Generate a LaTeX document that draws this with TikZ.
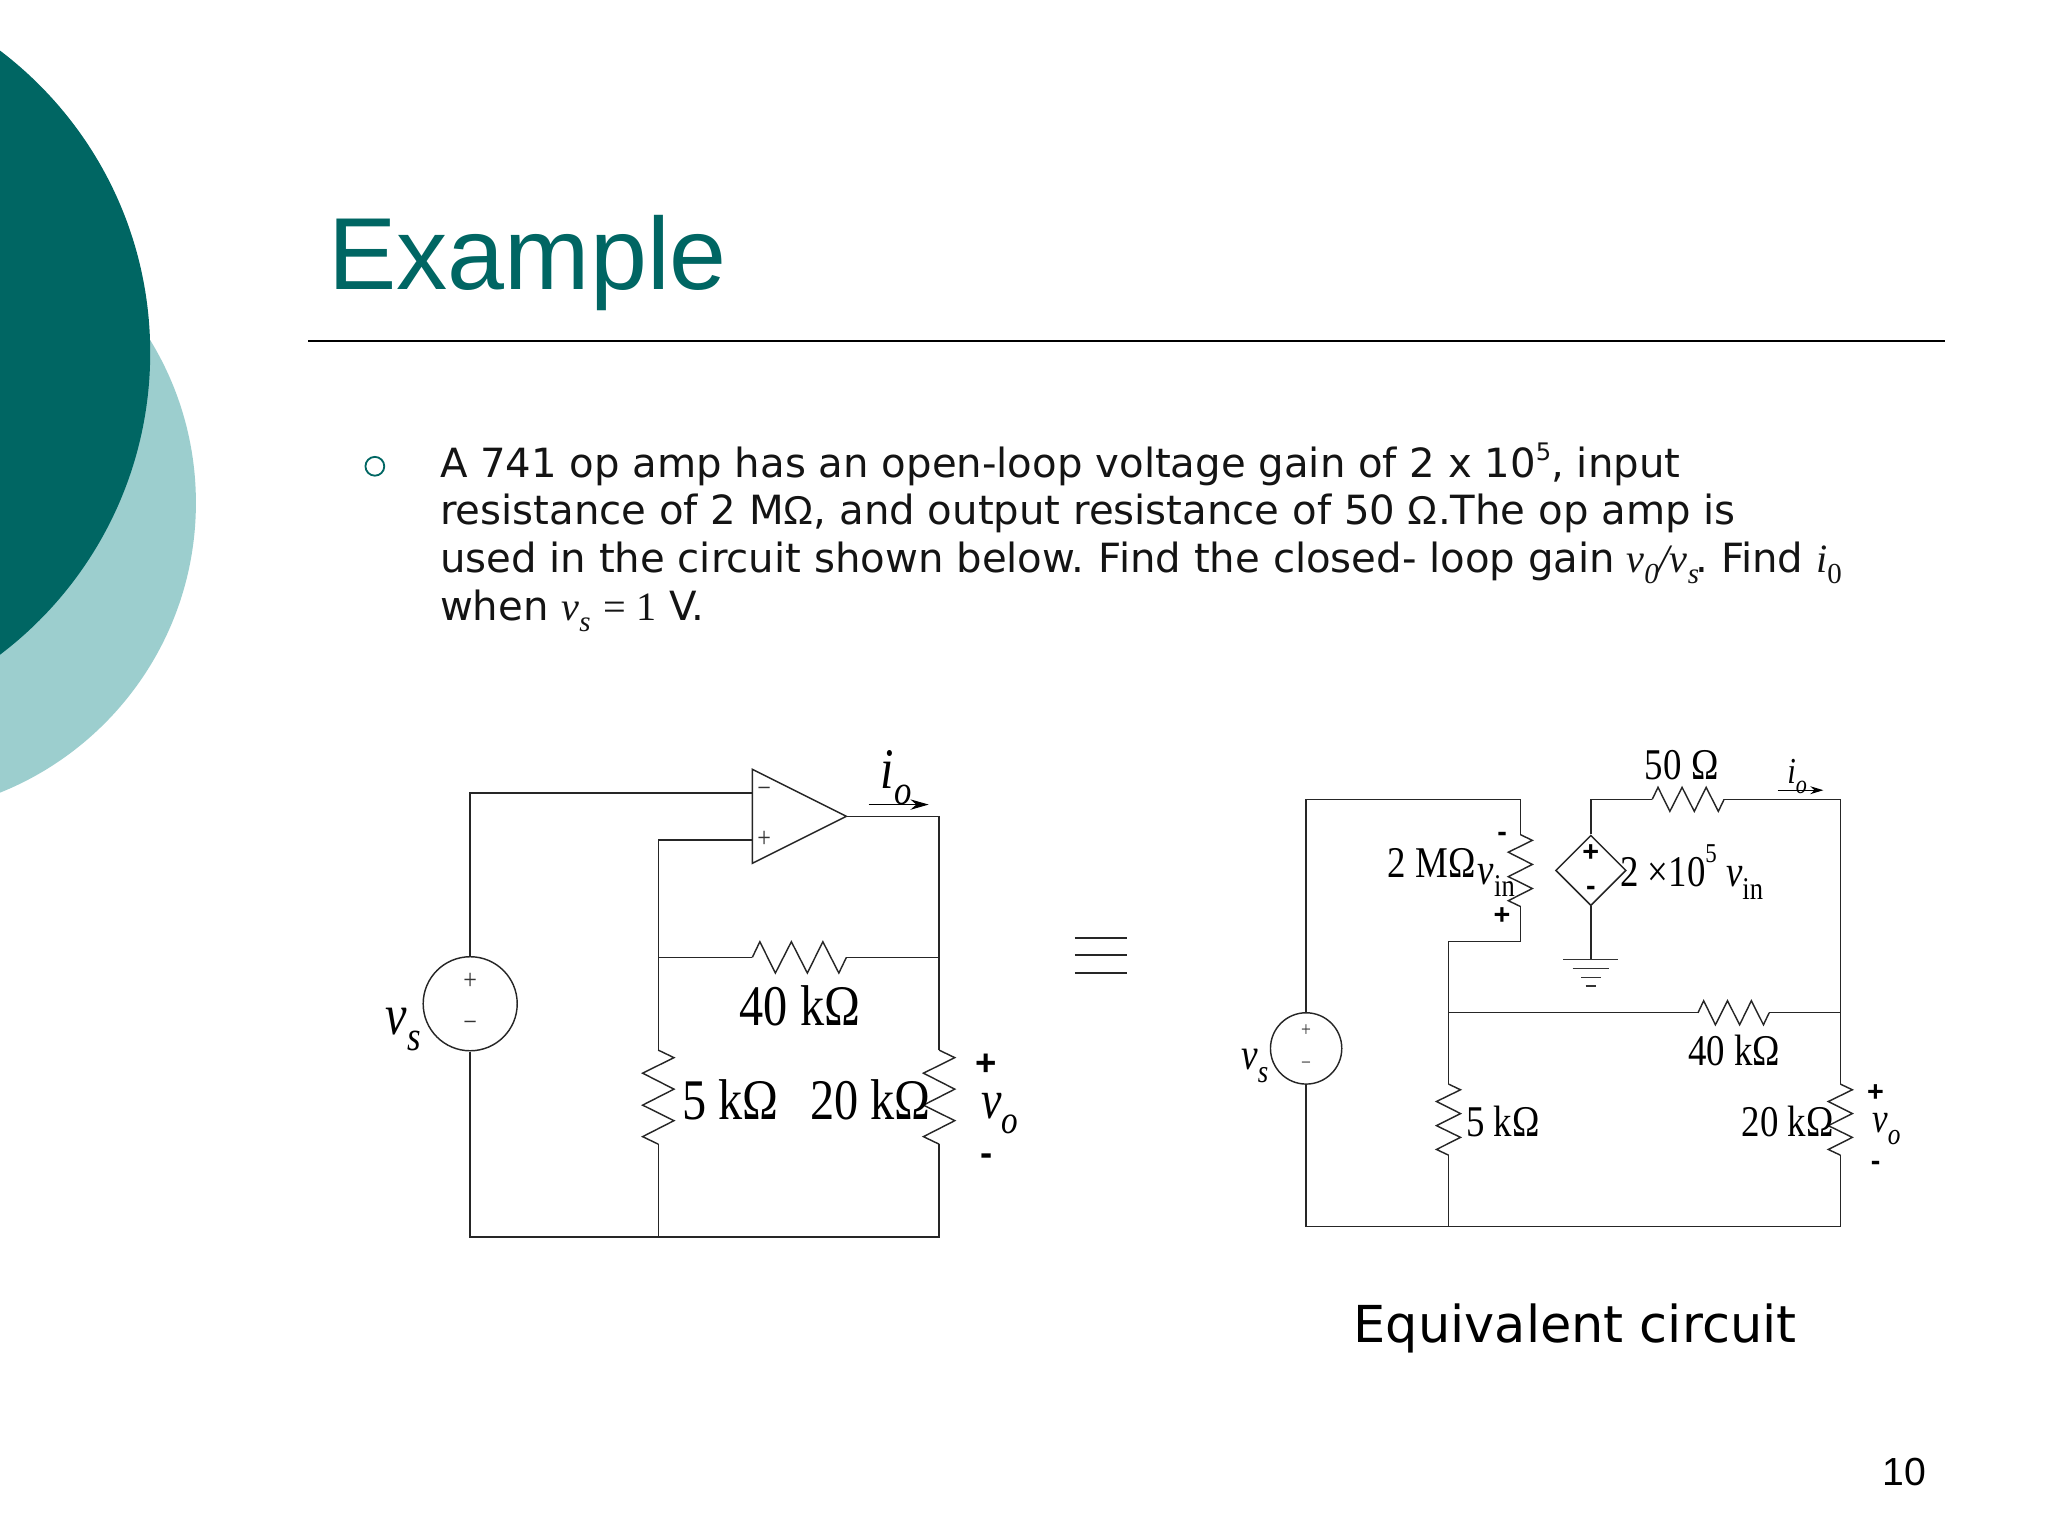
\documentclass[tikz,border=0pt]{standalone}
\usepackage{fontspec}
\setmainfont{DejaVu Sans}
\newfontfamily\tmf[FakeStretch=.84]{Liberation Serif}
\newfontfamily\tmb{Liberation Serif}
\newfontfamily\arf{Liberation Sans}
\usetikzlibrary{calc,arrows.meta,shapes.geometric}
\definecolor{tealdark}{HTML}{006663}
\definecolor{teallight}{HTML}{9CCECE}
\newcommand\lsub[1]{\raisebox{-.28em}{\scalebox{.72}{#1}}}
\newcommand\lsup[1]{\raisebox{.55em}{\scalebox{.62}{#1}}}
\newcommand\bsup[1]{\raisebox{.42em}{\scalebox{.6}{#1}}}
\newcommand\fs[1]{\fontsize{#1}{#1}\selectfont}
% resistor from coordinate #1 to #2 with half-swing #3
\newcommand\zigR[3]{\draw[wire,line join=miter] (#1)
 -- ($(#1)!.08!(#2)!#3!90:(#2)$) -- ($(#1)!.245!(#2)!#3!-90:(#2)$)
 -- ($(#1)!.415!(#2)!#3!90:(#2)$) -- ($(#1)!.585!(#2)!#3!-90:(#2)$)
 -- ($(#1)!.75!(#2)!#3!90:(#2)$) -- ($(#1)!.92!(#2)!#3!-90:(#2)$) -- (#2);}
\tikzset{
 wire/.style={draw=black!85,line width=.55pt},
 lab/.style={anchor=base west,inner sep=0pt,text=black},
 cfontA/.style={lab,font=\tmf\fs{22}},
 cfontB/.style={lab,font=\tmf\fs{16.8}},
 signA/.style={inner sep=0pt,font=\arf\bfseries\fs{14}},
 signB/.style={inner sep=0pt,font=\arf\bfseries\fs{11}},
 thinsign/.style={inner sep=0pt,font=\tmf\fs{#1},text=black!80},
}
\begin{document}
\begin{tikzpicture}[x=.5pt,y=-.5pt]
\useasboundingbox (0,0) rectangle (1568,1176);
\begin{scope}
\clip (0,0) rectangle (1568,1176);
\fill[white] (0,0) rectangle (1568,1176);
\fill[teallight] (-89,385) circle [radius=239*.5pt];
\fill[tealdark] (-175,270) circle [radius=290*.5pt];
\end{scope}
% header
\node[lab,text=tealdark,font=\arf\fs{39.2}] (title) at (251,222) {Example};
\coordinate (ruleL) at (236,261); \coordinate (ruleR) at (1489,261);
\draw[black,line width=1pt] (ruleL) -- (ruleR);
\node[circle,draw=tealdark,line width=.7pt,minimum size=7.2pt,inner sep=0pt] (bullet) at (287,357) {};
\node[anchor=north west,inner sep=0pt,align=left,font=\fontsize{15.4}{18.25}\selectfont,text=black!92] (body) at (336.5,338.5)
{A 741 op amp has an open-loop voltage gain of 2 x 10\bsup{5}, input\\
resistance of 2 M{\arf Ω}, and output resistance of 50 {\arf Ω}.The op amp is\\
used in the circuit shown below.\hspace{-1pt} Find the closed- loop gain\hspace{-.5pt} {\tmb\itshape v\lsub{0}/v\lsub{s}}\hspace{-1.5pt}. \hspace{-1.5pt}Find {\tmb\itshape i\lsub{\upshape 0}}\\
when {\tmb\itshape v\lsub{s}} {\tmb = 1} V.};
\node[lab,font=\fs{19.5}] (eqcap) at (1036,1028) {Equivalent circuit};
\node[lab,font=\arf\fs{15}] (pagenum) at (1441,1137) {10};
% ---- left circuit
\node[wire,circle,minimum size=36pt,inner sep=0pt] (vsA) at (360,768.5) {};
\coordinate (tlA) at (360,607); \coordinate (inmA) at (576,607);
\coordinate (blA) at (360,947); \coordinate (bmA) at (504,947); \coordinate (brA) at (719,947);
\coordinate (oaT) at (576,589); \coordinate (oaB) at (576,661); \coordinate (oaO) at (648,625);
\coordinate (inpA) at (576,643); \coordinate (ipA) at (504,643);
\coordinate (orA) at (719,625);
\coordinate (fbL) at (504,733); \coordinate (fbR) at (719,733);
\coordinate (fbr1) at (576,733); \coordinate (fbr2) at (648,733);
\coordinate (r5a) at (504,804); \coordinate (r5b) at (504,876);
\coordinate (r20a) at (719,804); \coordinate (r20b) at (719,876);
\draw[wire] (vsA.north) -- (tlA) -- (inmA);
\draw[wire] (vsA.south) -- (blA) -- (brA) -- (r20b);
\draw[wire] (oaT) -- (oaB) -- (oaO) -- cycle;
\draw[wire] (inpA) -- (ipA) -- (r5a);
\draw[wire] (r5b) -- (bmA);
\draw[wire] (oaO) -- (orA) -- (r20a);
\draw[wire] (fbL) -- (fbr1); \draw[wire] (fbr2) -- (fbR);
\zigR{fbr1}{fbr2}{6pt}
\zigR{r5a}{r5b}{6pt}
\zigR{r20a}{r20b}{6pt}
\node[thinsign=11] (opm) at (585,607) {−};
\node[thinsign=11] (opp) at (585,643) {+};
\node[thinsign=11] (sap) at (360,751) {+};
\node[thinsign=11] (sam) at (360,786) {−};
\node[cfontA,font=\tmf\itshape\fs{22}] (vsLA) at (295,792) {v\lsub{s}};
\node[cfontA,font=\tmf\itshape\fs{22}] (ioLA) at (674,604) {i\lsub{o}};
\coordinate (ioa) at (665,616); \coordinate (iob) at (711,616);
\draw[black,line width=.5pt,-{Stealth[length=7pt,width=4pt]}] (ioa) -- (iob);
\node[cfontA] (l40A) at (566,785) {40 kΩ};
\node[cfontA] (l5A) at (522,857) {5 kΩ};
\node[cfontA] (l20A) at (620,857) {20 kΩ};
\node[signA] (voPA) at (755,815) {+};
\node[cfontA,font=\tmf\itshape\fs{21}] (voLA) at (751,856) {v\lsub{o}};
\node[signA] (voMA) at (755,888) {-};
% equivalence sign
\foreach \n/\yy in {a/718,b/731,c/745}{
 \coordinate (eq\n L) at (823,\yy); \coordinate (eq\n R) at (863,\yy);
 \draw[black!85,line width=.6pt] (eq\n L) -- (eq\n R);}
% ---- right circuit
\node[wire,circle,minimum size=27.3pt,inner sep=0pt] (vsB) at (1000,802.7) {};
\coordinate (tlB) at (1000,612); \coordinate (tmB) at (1164,612);
\coordinate (rMa) at (1164,639); \coordinate (rMb) at (1164,694);
\coordinate (jg1) at (1164,721); \coordinate (jg2) at (1109,721);
\coordinate (nodeB) at (1109,775.4);
\coordinate (r5aB) at (1109,830); \coordinate (r5bB) at (1109,884.4);
\coordinate (blB) at (1000,939); \coordinate (bmB) at (1109,939); \coordinate (brB) at (1409,939);
\node[wire,diamond,aspect=1,minimum size=27pt,inner sep=0pt] (dsrc) at (1218,666.4) {};
\coordinate (tdB) at (1218,612); \coordinate (r50a) at (1265,612); \coordinate (r50b) at (1320,612);
\coordinate (trB) at (1409,612); \coordinate (midR) at (1409,775.4);
\coordinate (r40a) at (1300,775.4); \coordinate (r40b) at (1354.5,775.4);
\coordinate (r20aB) at (1409,830); \coordinate (r20bB) at (1409,884.4);
\coordinate (gnd) at (1218,734.5);
\draw[wire] (vsB.north) -- (tlB) -- (tmB) -- (rMa);
\draw[wire] (rMb) -- (jg1) -- (jg2) -- (r5aB);
\draw[wire] (vsB.south) -- (blB) -- (brB) -- (r20bB);
\draw[wire] (r5bB) -- (bmB);
\draw[wire] (dsrc.north) -- (tdB) -- (r50a);
\draw[wire] (r50b) -- (trB) -- (r20aB);
\draw[wire] (nodeB) -- (r40a); \draw[wire] (r40b) -- (midR);
\draw[wire] (dsrc.south) -- (gnd);
\zigR{rMa}{rMb}{4.6pt}
\zigR{r50a}{r50b}{4.6pt}
\zigR{r40a}{r40b}{4.6pt}
\zigR{r5aB}{r5bB}{4.6pt}
\zigR{r20aB}{r20bB}{4.6pt}
\foreach \n/\yy/\hw in {a/734.5/21,b/741.4/14,c/748.3/7.5,d/755/4}{
 \coordinate (g\n L) at (1218-\hw,\yy); \coordinate (g\n R) at (1218+\hw,\yy);
 \draw[black!80,line width=.5pt] (g\n L) -- (g\n R);}
\node[thinsign=8] (sbp) at (1000,789) {+};
\node[thinsign=8] (sbm) at (1000,816) {−};
\node[cfontB,font=\tmf\itshape\fs{17}] (vsLB) at (950,819) {v\lsub{s}};
\node[cfontB] (l50) at (1259,597) {50 Ω};
\node[cfontB,font=\tmf\itshape\fs{14}] (ioLB) at (1368,600) {i\lsub{o}};
\coordinate (iobA) at (1361,605); \coordinate (iobB) at (1396,605);
\draw[black,line width=.45pt,-{Stealth[length=5pt,width=3pt]}] (iobA) -- (iobB);
\node[cfontB] (l2M) at (1062,672) {2 MΩ};
\node[cfontB,font=\tmf\itshape\fs{16.8}] (vinL) at (1131,677) {v\lsub{\upshape in}};
\node[signB] (pm) at (1150,641) {-};
\node[signB] (pp) at (1150,701) {+};
\node[signB] (dp) at (1218,653) {+};
\node[signB] (dm) at (1218,682) {-};
\node[cfontB] (gainL) at (1240,679) {2 ×10\lsup{5} {\itshape v\lsub{\upshape in}}};
\node[cfontB] (l40B) at (1292,816) {40 kΩ};
\node[cfontB] (l5B) at (1122,870) {5 kΩ};
\node[cfontB] (l20B) at (1333,870) {20 kΩ};
\node[signB] (voPB) at (1436,837) {+};
\node[cfontB,font=\tmf\itshape\fs{16}] (voLB) at (1433,867) {v\lsub{o}};
\node[signB] (voMB) at (1436,893) {-};
\end{tikzpicture}
\end{document}
